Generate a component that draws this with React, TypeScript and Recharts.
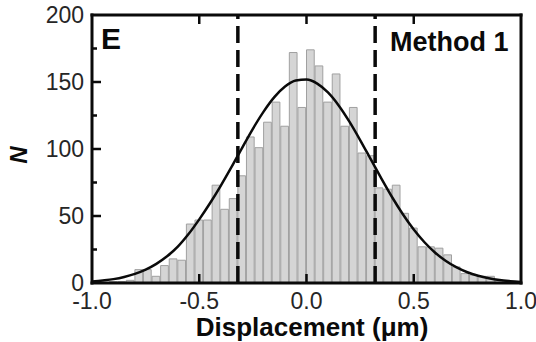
import React from "react";
import {
  ComposedChart,
  Bar,
  Line,
  XAxis,
  YAxis,
  ReferenceLine,
} from "recharts";

// histogram bins (width 0.04 um), counts
const binCenters = [
  -0.98, -0.94, -0.9, -0.86, -0.82, -0.78, -0.74, -0.7, -0.66, -0.62,
  -0.58, -0.54, -0.5, -0.46, -0.42, -0.38, -0.34, -0.3, -0.26, -0.22,
  -0.18, -0.14, -0.1, -0.06, -0.02, 0.02, 0.06, 0.1, 0.14, 0.18,
  0.22, 0.26, 0.3, 0.34, 0.38, 0.42, 0.46, 0.5, 0.54, 0.58,
  0.62, 0.66, 0.7, 0.74, 0.78, 0.82, 0.86, 0.9, 0.94, 0.98,
];
const binCounts = [
  0, 0, 1, 1, 2, 10, 10, 5, 13, 18,
  17, 44, 47, 47, 73, 55, 63, 80, 109, 101,
  120, 135, 117, 172, 131, 174, 162, 135, 156, 117,
  131, 97, 95, 71, 70, 73, 52, 41, 27, 27,
  26, 21, 12, 7, 6, 5, 5, 2, 1, 1,
];

// fitted curve, sampled from the figure
const fitX = [
  -1, -0.95, -0.9, -0.85, -0.8, -0.75, -0.7, -0.65, -0.6, -0.55,
  -0.5, -0.45, -0.4, -0.35, -0.3, -0.25, -0.2, -0.15, -0.1, -0.05,
  0, 0.05, 0.1, 0.15, 0.2, 0.25, 0.3, 0.35, 0.4, 0.45,
  0.5, 0.55, 0.6, 0.65, 0.7, 0.75, 0.8, 0.85, 0.9, 0.95, 1,
];
const fitY = [
  1.1, 1.9, 2.9, 4.5, 6.8, 10.0, 14.3, 19.9, 27.1, 36.5,
  47.5, 59.5, 72.5, 86.4, 100.9, 115.1, 127.9, 138.7, 146.6, 151.1,
  151.8, 148.8, 142.2, 132.5, 120.4, 106.7, 92.2, 77.7, 63.8, 51.1,
  39.9, 30.4, 22.6, 16.4, 11.6, 8.0, 5.4, 3.5, 2.2, 1.4, 0.8,
];

const cutoffs = [-0.32, 0.32];
const xTicks = [-1, -0.5, 0, 0.5, 1];
const yTicks = [0, 25, 50, 75, 100, 125, 150, 175, 200];

const bars = binCenters.map((x, i) => ({ x, n: binCounts[i] }));
const fit = fitX.map((x, i) => ({ fx: x, fit: fitY[i] }));

const FONT = '"Liberation Sans", Arial, Helvetica, sans-serif';
const INK = "#0a0a0a";

const fmtX = (v: number) => (v === 0 ? "0.0" : v.toFixed(1));

const BottomTick = ({ x, y, payload }: any) => {
  const v = payload.value;
  const inner = v > -1 && v < 1;
  return (
    <g>
      {inner && <line x1={x} x2={x} y1={y} y2={y - 9} stroke={INK} strokeWidth={2.5} />}
      <text x={x} y={y + 26} textAnchor="middle" fontSize={23} fill="#262626" fontFamily={FONT}>
        {fmtX(v)}
      </text>
    </g>
  );
};

const TopTick = ({ x, y, payload }: any) => {
  const v = payload.value;
  if (v <= -1 || v >= 1) return <g />;
  return <line x1={x} x2={x} y1={y} y2={y + 9} stroke={INK} strokeWidth={2.5} />;
};

const LeftTick = ({ x, y, payload }: any) => {
  const v = payload.value;
  const major = v % 50 === 0;
  return (
    <g>
      {v > 0 && v < 200 && (
        <line x1={x} x2={x + (major ? 9 : 5)} y1={y} y2={y} stroke={INK} strokeWidth={2.5} />
      )}
      {major && (
        <text x={x - 8} y={y + 8} textAnchor="end" fontSize={23} fill="#262626" fontFamily={FONT}>
          {v}
        </text>
      )}
    </g>
  );
};

const RightTick = ({ x, y, payload }: any) => {
  const v = payload.value;
  if (v <= 0 || v >= 200) return <g />;
  const major = v % 50 === 0;
  return <line x1={x} x2={x - (major ? 9 : 6)} y1={y} y2={y} stroke={INK} strokeWidth={2.5} />;
};

export default function App() {
  const axisLine = { stroke: INK, strokeWidth: 3, strokeLinecap: "square" as const };
  return (
    <div style={{ position: "absolute", left: 0, top: 0, width: 536, height: 342, background: "#fff", fontFamily: FONT }}>
      <ComposedChart
        width={536}
        height={342}
        data={bars}
        margin={{ top: 14, right: 14, bottom: 0, left: 0 }}
      >
        <XAxis
          dataKey="x"
          type="number"
          domain={[-1, 1]}
          ticks={xTicks}
          interval={0}
          height={59}
          stroke={INK}
          tickSize={0}
          tickMargin={0}
          tickLine={false}
          axisLine={axisLine}
          tick={<BottomTick />}
        />
        <XAxis
          xAxisId="top"
          dataKey="x"
          type="number"
          orientation="top"
          domain={[-1, 1]}
          ticks={xTicks}
          interval={0}
          height={1}
          stroke={INK}
          tickSize={0}
          tickMargin={0}
          tickLine={false}
          axisLine={axisLine}
          tick={<TopTick />}
        />
        <XAxis xAxisId="fit" dataKey="fx" type="number" domain={[-1, 1]} hide />
        <YAxis
          type="number"
          domain={[0, 200]}
          ticks={yTicks}
          interval={0}
          width={92}
          stroke={INK}
          tickSize={0}
          tickMargin={0}
          tickLine={false}
          axisLine={axisLine}
          tick={<LeftTick />}
        />
        <YAxis
          yAxisId="right"
          orientation="right"
          type="number"
          domain={[0, 200]}
          ticks={yTicks}
          interval={0}
          width={1}
          stroke={INK}
          tickSize={0}
          tickMargin={0}
          tickLine={false}
          axisLine={axisLine}
          tick={<RightTick />}
        />
        <Bar
          dataKey="n"
          barSize={8.58}
          fill="#d5d5d5"
          stroke="#a0a0a0"
          strokeWidth={1}
          isAnimationActive={false}
        />
        <Line
          xAxisId="fit"
          data={fit}
          dataKey="fit"
          type="monotone"
          stroke={INK}
          strokeWidth={2.5}
          dot={false}
          activeDot={false}
          isAnimationActive={false}
        />
        {cutoffs.map((c) => (
          <ReferenceLine key={c} x={c} stroke={INK} strokeWidth={3.5} strokeDasharray="17 7" />
        ))}
      </ComposedChart>

      <div style={{ position: "absolute", left: 101, top: 24, fontSize: 30, fontWeight: 700, lineHeight: 1, color: INK }}>
        E
      </div>
      <div style={{ position: "absolute", left: 390, top: 29, fontSize: 27, fontWeight: 700, lineHeight: 1, color: INK, whiteSpace: "nowrap" }}>
        Method 1
      </div>
      <div
        style={{
          position: "absolute",
          left: 19,
          top: 155,
          transform: "translate(-50%, -50%) rotate(-90deg)",
          fontSize: 24,
          fontWeight: 700,
          fontStyle: "italic",
          lineHeight: 1,
          color: INK,
        }}
      >
        N
      </div>
      <div
        style={{
          position: "absolute",
          left: 312,
          top: 317,
          transform: "translateX(-50%)",
          fontSize: 26,
          fontWeight: 700,
          lineHeight: 0.8,
          color: INK,
          whiteSpace: "nowrap",
        }}
      >
        Displacement (μm)
      </div>
    </div>
  );
}
